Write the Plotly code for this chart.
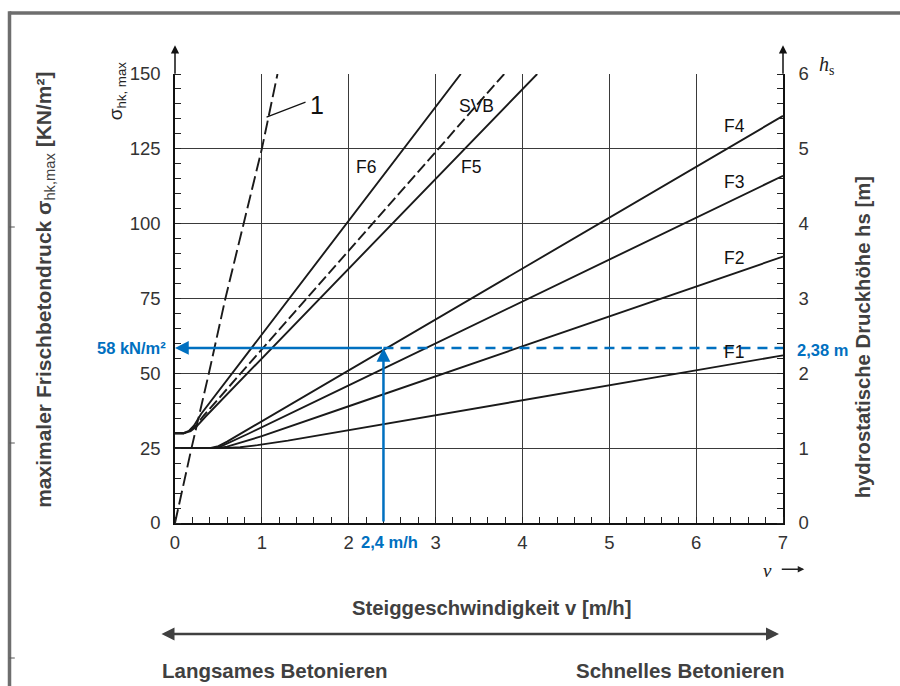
import plotly.graph_objects as go

# ---------------- data ----------------
v_line1 = [0, 0.19, 0.39, 0.58, 0.79, 1.0, 1.18]
s_line1 = [0, 25, 50, 75, 100, 125, 150]

v_F6 = [0, 0.1, 0.16, 0.22, 0.3, 1.0, 2.0, 3.29]
s_F6 = [30, 30, 30.8, 32.6, 36.4, 63, 101, 150]

v_SVB = [0, 0.1, 0.17, 0.24, 0.33, 1.0, 2.0, 3.79]
s_SVB = [30, 30, 30.8, 32.5, 35.9, 58, 91, 150]

v_F5 = [0, 0.1, 0.18, 0.25, 0.35, 1.0, 2.0, 4.17]
s_F5 = [30, 30, 30.7, 32.3, 35.5, 55, 85, 150]

v_F4 = [0, 0.4, 0.5, 0.6, 0.8, 2.0, 4.0, 7.0]
s_F4 = [25, 25, 25.7, 27.2, 30.6, 51, 85, 136]

v_F3 = [0, 0.43, 0.53, 0.63, 0.85, 2.0, 4.0, 7.0]
s_F3 = [25, 25, 25.6, 26.9, 29.9, 46, 74, 116]

v_F2 = [0, 0.48, 0.6, 0.72, 1.0, 2.0, 4.0, 7.0]
s_F2 = [25, 25, 25.5, 26.5, 29, 39, 59, 89]

v_F1 = [0, 0.55, 0.75, 0.95, 1.3, 3.0, 5.0, 7.0]
s_F1 = [25, 25, 25.3, 26.0, 27.5, 36, 46, 56]

curve_labels = ["F6", "SVB", "F5", "F4", "F3", "F2", "F1"]
label_v = [2.2, 3.47, 3.41, 6.44, 6.44, 6.44, 6.44]
label_s = [119, 139.3, 119, 132.6, 114, 88.4, 57.2]

read_v = 2.4          # m/h
read_sigma = 58.5     # kN/m²
read_text_sigma = "58 kN/m²"
read_text_h = "2,38 m"
read_text_v = "2,4 m/h"

x_ticks = [0, 1, 2, 3, 4, 5, 6, 7]
y_ticks = [0, 25, 50, 75, 100, 125, 150]
h_ticks = [0, 1, 2, 3, 4, 5, 6]

# ---------------- figure ----------------
FONT = "Liberation Sans, Arial, sans-serif"
SERIF = "Liberation Serif, Times New Roman, serif"
BLUE = "#0070C0"
DARK = "#404040"
LINE = "#1a1a1a"

fig = go.Figure()

def add_curve(v, s, dash=None):
    fig.add_trace(go.Scatter(
        x=v, y=s, mode="lines", showlegend=False, hoverinfo="skip",
        line=dict(color=LINE, width=1.9, dash=dash)))

add_curve(v_line1, s_line1, dash="14px,5px")
add_curve(v_F6, s_F6)
add_curve(v_SVB, s_SVB, dash="11px,4px")
add_curve(v_F5, s_F5)
add_curve(v_F4, s_F4)
add_curve(v_F3, s_F3)
add_curve(v_F2, s_F2)
add_curve(v_F1, s_F1)

# dashed blue continuation to the right axis
fig.add_trace(go.Scatter(
    x=[read_v, x_ticks[-1]], y=[read_sigma, read_sigma], mode="lines",
    showlegend=False, hoverinfo="skip",
    line=dict(color=BLUE, width=2.5, dash="10px,7px")))

# dummy trace for the right axis
fig.add_trace(go.Scatter(x=[None], y=[None], yaxis="y2", showlegend=False))

annotations = []

def txt(x, y, text, size, color, family=FONT, xref="paper", yref="paper",
        xanchor="center", yanchor="middle", angle=0):
    annotations.append(dict(x=x, y=y, xref=xref, yref=yref, text=text, showarrow=False,
                            xanchor=xanchor, yanchor=yanchor, textangle=angle,
                            font=dict(family=family, size=size, color=color)))

# curve labels
for t, xv, yv in zip(curve_labels, label_v, label_s):
    txt(xv, yv, t, 17.5, "#111", xref="x", yref="y")

# label "1" with leader line
txt(1.64, 139.5, "1", 25, "#111", xref="x", yref="y")
annotations.append(dict(x=1.054, y=135.6, xref="x", yref="y", ax=1.52, ay=140.8,
                        axref="x", ayref="y", text="", showarrow=True, arrowhead=0,
                        arrowwidth=1.2, arrowcolor="#111"))

# axis arrows (left and right vertical axes)
for xa in (0, 7):
    annotations.append(dict(x=xa, y=1.064, xref="x", yref="paper", ax=0, ay=30,
                            text="", showarrow=True, arrowhead=2, arrowsize=1.1,
                            arrowwidth=1.5, arrowcolor="#111"))

# blue reading arrows
annotations.append(dict(x=0, y=read_sigma, xref="x", yref="y", ax=read_v, ay=read_sigma,
                        axref="x", ayref="y", text="", showarrow=True, arrowhead=2,
                        arrowsize=1.1, arrowwidth=2.5, arrowcolor=BLUE))
annotations.append(dict(x=read_v, y=read_sigma, xref="x", yref="y", ax=read_v, ay=0,
                        axref="x", ayref="y", text="", showarrow=True, arrowhead=2,
                        arrowsize=1.1, arrowwidth=2.5, arrowcolor=BLUE))

txt(-0.011, read_sigma, "<b>%s</b>" % read_text_sigma, 16.5, BLUE, yref="y", xanchor="right")
txt(1.019, read_sigma - 0.8, "<b>%s</b>" % read_text_h, 16.5, BLUE, yref="y", xanchor="left")
txt(2.47, -0.042, "<b>%s</b>" % read_text_v, 16.5, BLUE, xref="x")

# sigma and h_s symbols
txt(-0.095, 0.962, "σ<sub>hk, max</sub>", 19, "#222", angle=-90)
txt(1.072, 1.02, "<i>h</i><sub>s</sub>", 20, "#222", family=SERIF)

# v ->
txt(0.975, -0.105, "<i>v</i>", 19, "#222", family=SERIF)
annotations.append(dict(x=1.035, y=-0.103, xref="paper", yref="paper", ax=-24, ay=0,
                        text="", showarrow=True, arrowhead=2, arrowsize=1,
                        arrowwidth=1.3, arrowcolor="#222"))

# axis titles
txt(-0.214, 0.519, "<b>maximaler Frischbetondruck σ</b><sub>hk,max</sub><b> [KN/m²]</b>",
    21, DARK, angle=-90)
txt(1.132, 0.414, "<b>hydrostatische Druckhöhe hs [m]</b>", 20.3, DARK, angle=-90)
txt(0.52, -0.189, "<b>Steiggeschwindigkeit v [m/h]</b>", 20.3, DARK)

# double arrow
annotations.append(dict(x=0.9934, y=-0.2472, xref="paper", yref="paper", ax=-619, ay=0,
                        text="", showarrow=True, arrowhead=2, arrowside="end+start",
                        arrowsize=1, arrowwidth=2.6, arrowcolor=DARK))

txt(0.1637, -0.3296, "<b>Langsames Betonieren</b>", 20.5, DARK)
txt(0.8306, -0.3296, "<b>Schnelles Betonieren</b>", 20.5, DARK)

# frame (top and left edges)
shapes = [
    dict(type="line", xref="paper", yref="paper", x0=-0.2722, x1=1.2, y0=1.1359, y1=1.1359,
         line=dict(color="#6e6e6e", width=3.5)),
    dict(type="line", xref="paper", yref="paper", x0=-0.2722, x1=-0.2722, y0=1.14, y1=-0.37,
         line=dict(color="#6e6e6e", width=3.5)),
]
for yp in (227, 443, 658):
    yy = (523 - yp) / 449
    shapes.append(dict(type="line", xref="paper", yref="paper", x0=-0.2722, x1=-0.2635,
                       y0=yy, y1=yy, line=dict(color="#555", width=1)))

axis_common = dict(
    showgrid=True, gridcolor="#3a3a3a", gridwidth=1.4,
    showline=True, linecolor="#111", linewidth=1.6,
    zeroline=False, ticks="",
    tickfont=dict(family=FONT, size=18.5, color="#333"),
)

fig.update_layout(
    width=900, height=686,
    margin=dict(l=175, r=117, t=74, b=163),
    paper_bgcolor="white", plot_bgcolor="white",
    showlegend=False,
    xaxis=dict(range=[0, 7], tickvals=x_ticks, ticklabelstandoff=2, **axis_common,
               minor=dict(dtick=0.2, ticks="inside", ticklen=6, tickcolor="#222", tickwidth=1.2, showgrid=False)),
    yaxis=dict(range=[0, 150], tickvals=y_ticks, ticklabelstandoff=9, **axis_common,
               minor=dict(dtick=5, ticks="inside", ticklen=6, tickcolor="#222", tickwidth=1.2, showgrid=False)),
    yaxis2=dict(range=[0, 6], tickvals=h_ticks, overlaying="y", side="right",
                showgrid=False, showline=True, linecolor="#111", linewidth=1.6,
                zeroline=False, ticks="", ticklabelstandoff=10,
                tickfont=dict(family=FONT, size=18.5, color="#333"),
                minor=dict(dtick=0.2, ticks="inside", ticklen=6, tickcolor="#222", tickwidth=1.2)),
    annotations=annotations,
    shapes=shapes,
)

fig.write_html("out.html")
